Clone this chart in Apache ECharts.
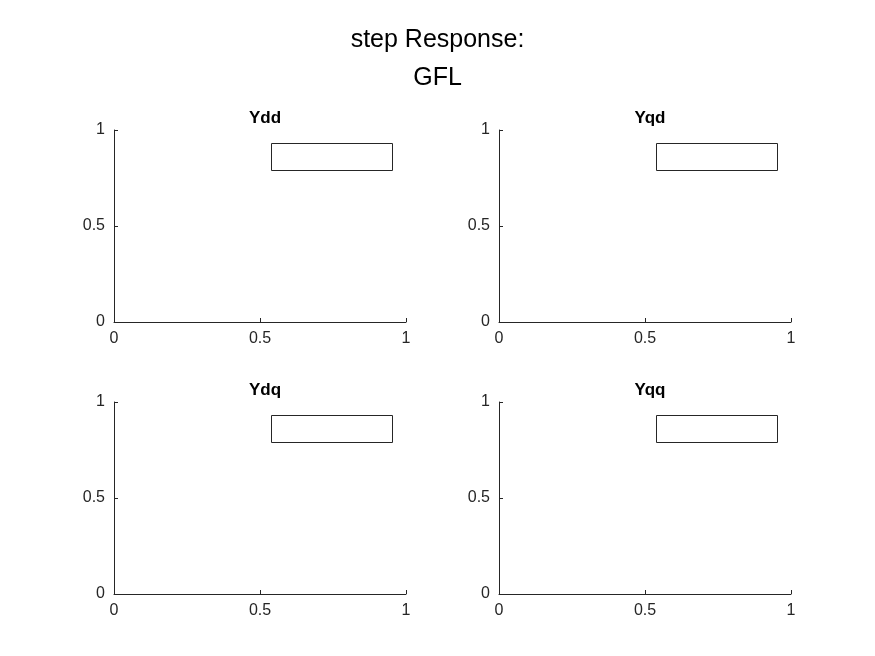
<!DOCTYPE html>
<html>
<head>
<meta charset="utf-8">
<script src="https://cdn.jsdelivr.net/npm/echarts@6/dist/echarts.min.js"></script>
<style>html,body{margin:0;background:#fff}#c{width:875px;height:656px}</style>
</head>
<body>
<div id="c"></div>
<script>
var panelTitles = ['Ydd', 'Yqd', 'Ydq', 'Yqq'];
var xTicks = [0, 0.5, 1];
var yTicks = [0, 0.5, 1];
var seriesData = [[], [], [], []];

var lefts = [114, 499], tops = [130, 402];
var W = 292, H = 192;
var axisColor = '#262626';
var grids = [], xAxes = [], yAxes = [], series = [], titles = [], boxes = [];
titles.push({
    text: 'step Response:\nGFL', left: 'center', top: 16,
    textStyle: {fontFamily: 'Arial', fontSize: 25, fontWeight: 'normal', color: '#000', lineHeight: 38}
});
panelTitles.forEach(function (t, i) {
    var l = lefts[i % 2], tp = tops[Math.floor(i / 2)];
    grids.push({left: l, top: tp, width: W, height: H});
    var axisCommon = {
        min: 0, max: 1, interval: 0.5,
        axisLine: {show: true, lineStyle: {color: axisColor}},
        axisTick: {show: true, inside: true, length: 4, lineStyle: {color: axisColor}},
        splitLine: {show: false},
        axisLabel: {color: axisColor, fontFamily: 'Arial', fontSize: 16, margin: 9,
            formatter: function (v) { return String(v); }}
    };
    xAxes.push(Object.assign({type: 'value', gridIndex: i}, axisCommon));
    yAxes.push(Object.assign({type: 'value', gridIndex: i}, axisCommon));
    series.push({type: 'line', xAxisIndex: i, yAxisIndex: i, data: seriesData[i]});
    titles.push({
        text: t, left: l + W / 2, top: tp - 25, textAlign: 'center',
        textStyle: {fontFamily: 'Arial', fontSize: 17, fontWeight: 'bold', color: '#000'}
    });
    boxes.push({
        type: 'rect', left: l + 157, top: tp + 13,
        shape: {width: 121, height: 27},
        style: {fill: '#fff', stroke: '#262626', lineWidth: 1}
    });
});

var chart = echarts.init(document.getElementById('c'));
chart.setOption({
    animation: false,
    title: titles,
    grid: grids,
    xAxis: xAxes,
    yAxis: yAxes,
    series: series,
    graphic: boxes
});
</script>
</body>
</html>
